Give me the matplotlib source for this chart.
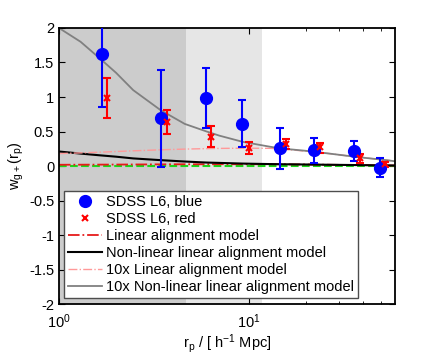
import numpy as np
import matplotlib
matplotlib.use('Agg')
import matplotlib.pyplot as plt
from matplotlib.ticker import FixedLocator, NullFormatter

plt.rcParams['font.family'] = ['Liberation Sans', 'DejaVu Sans']
plt.rcParams['mathtext.default'] = 'regular'

r_blue = [1.68, 3.43, 5.92, 9.26, 14.6, 22.2, 35.7, 49.1]
w_blue = [1.63, 0.69, 0.99, 0.61, 0.256, 0.23, 0.22, -0.03]
w_blue_hi = [2.30, 1.39, 1.42, 0.957, 0.555, 0.405, 0.36, 0.116]
w_blue_lo = [0.86, -0.01, 0.555, 0.28, -0.05, 0.04, 0.07, -0.16]

r_red = [1.78, 3.69, 6.31, 10.0, 15.7, 23.8, 38.4, 52.4]
w_red = [0.99, 0.64, 0.425, 0.265, 0.32, 0.27, 0.12, 0.025]
w_red_hi = [1.28, 0.81, 0.58, 0.35, 0.39, 0.33, 0.17, 0.06]
w_red_lo = [0.69, 0.46, 0.28, 0.17, 0.25, 0.19, 0.05, -0.01]

# model curves
r_model = [1.0, 1.3, 1.64, 2.0, 2.46, 3.43, 4.6, 6.0, 7.0, 9.3, 12.9, 14.6, 20, 26.6, 36, 55, 60]
w_nla10 = [2.0, 1.80, 1.56, 1.35, 1.10, 0.81, 0.61, 0.50, 0.44, 0.35, 0.28, 0.256, 0.22, 0.18, 0.135, 0.08, 0.065]
w_la10 = [0.18, 0.19, 0.20, 0.21, 0.22, 0.235, 0.245, 0.252, 0.255, 0.258, 0.256, 0.248, 0.215, 0.18, 0.135, 0.08, 0.065]
w_nla = [0.21, 0.18, 0.155, 0.135, 0.11, 0.085, 0.065, 0.05, 0.045, 0.035, 0.028, 0.026, 0.022, 0.018, 0.014, 0.008, 0.007]
w_la = [0.018, 0.019, 0.02, 0.021, 0.022, 0.024, 0.025, 0.025, 0.026, 0.026, 0.026, 0.025, 0.022, 0.018, 0.014, 0.008, 0.007]
w_zero = [0.0] * len(r_model)

fig = plt.figure(figsize=(4.36, 3.58), dpi=100)
ax = fig.add_axes([0.1353, 0.1508, 0.7707, 0.771])

ax.axvspan(1.0, 4.65, color=(0.8, 0.8, 0.8), lw=0, zorder=0)
ax.axvspan(4.65, 11.7, color=(0.9, 0.9, 0.9), lw=0, zorder=0)

ax.plot(r_model, w_zero, '--', color=(0.1, 0.85, 0.1), lw=1.5, zorder=2)
ax.plot(r_model, w_la, '-.', color=(0.9, 0.1, 0.1), lw=1.3, label='Linear alignment model', zorder=2)
ax.plot(r_model, w_nla, '-', color='k', lw=1.5, label='Non-linear linear alignment model', zorder=2)
ax.plot(r_model, w_la10, '-.', color=(1.0, 0.6, 0.6), lw=1.0, label='10x Linear alignment model', zorder=2)
ax.plot(r_model, w_nla10, '-', color=(0.5, 0.5, 0.5), lw=1.3, label='10x Non-linear linear alignment model', zorder=2)

b_err = [np.subtract(w_blue, w_blue_lo), np.subtract(w_blue_hi, w_blue)]
r_err = [np.subtract(w_red, w_red_lo), np.subtract(w_red_hi, w_red)]
ax.errorbar(r_blue, w_blue, yerr=b_err, fmt='none', ecolor='b', elinewidth=1.5, capsize=3, capthick=1.5, zorder=3)
ax.errorbar(r_red, w_red, yerr=r_err, fmt='none', ecolor='r', elinewidth=1.5, capsize=3, capthick=1.5, zorder=3)
ax.plot(r_blue, w_blue, 'o', color='b', ms=8.5, ls='none', label='SDSS L6, blue', zorder=4)
ax.plot(r_red, w_red, 'x', color='r', ms=5, mew=1.5, ls='none', label='SDSS L6, red', zorder=4)

ax.set_xscale('log')
ax.set_xlim(1, 59)
ax.set_ylim(-2, 2)
ax.set_yticks(np.arange(-2, 2.01, 0.5))
ax.set_yticklabels(['-2', '-1.5', '-1', '-0.5', '0', '0.5', '1', '1.5', '2'])
ax.xaxis.set_minor_locator(FixedLocator([20, 30, 40, 50]))
ax.xaxis.set_minor_formatter(NullFormatter())
ax.tick_params(which='both', direction='in', top=True, right=True, labelsize=10.5)
ax.tick_params(axis='x', which='major', pad=6)
ax.tick_params(which='major', length=4)
ax.tick_params(which='minor', length=2.5)
for s in ax.spines.values():
    s.set_linewidth(1.3)

ax.set_xlabel('$r_p$ / [ $h^{-1}$ Mpc]', fontsize=10.5, labelpad=1)
ax.set_ylabel('$w_{g+}(r_p)$', fontsize=10.5, labelpad=2)

handles, labels = ax.get_legend_handles_labels()
order = [4, 5, 0, 1, 2, 3]
leg = ax.legend([handles[i] for i in order], [labels[i] for i in order],
                loc='lower left', bbox_to_anchor=(0.005, 0.01), fontsize=10.5,
                fancybox=False, framealpha=1, edgecolor=(0.3, 0.3, 0.3),
                handlelength=2.3, handletextpad=0.3, labelspacing=0.2,
                borderpad=0.3, borderaxespad=0.2)
leg.get_frame().set_linewidth(1.0)

fig.savefig('out.png', dpi=100)
